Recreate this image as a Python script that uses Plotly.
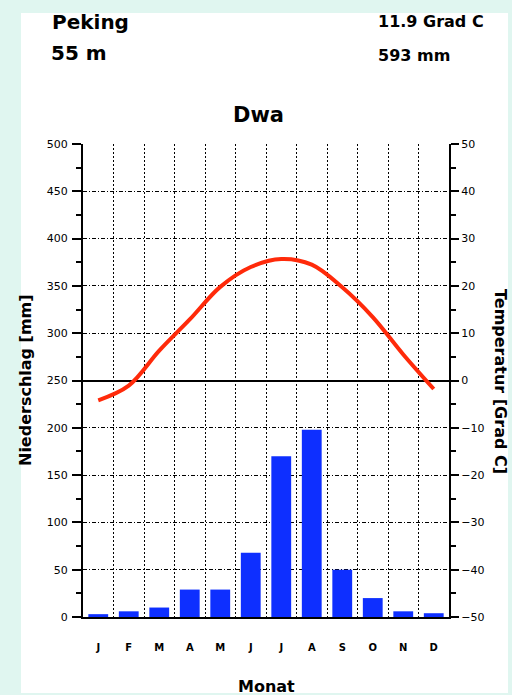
import plotly.graph_objects as go

months = ["J", "F", "M", "A", "M", "J", "J", "A", "S", "O", "N", "D"]
month_pos = [1, 2, 3, 4, 5, 6, 7, 8, 9, 10, 11, 12]
precip_mm = [3, 6, 10, 29, 29, 68, 170, 198, 50, 20, 6, 4]
temp_c = [-4.2, -1.1, 6.3, 12.9, 19.8, 24.0, 25.7, 24.5, 19.7, 13.4, 5.5, -1.8]
precip_ticks = [0, 50, 100, 150, 200, 250, 300, 350, 400, 450, 500]
temp_ticks = [-50, -40, -30, -20, -10, 0, 10, 20, 30, 40, 50]

W, H = 512, 695
L, R, T, B = 83, 449, 144, 617
pw, ph = R - L, B - T


def px(x):
    return (x - L) / pw


def py(y):
    return (B - y) / ph


FONT = "DejaVu Sans"
BG = "#e0f6f0"

fig = go.Figure()
fig.add_trace(go.Bar(
    x=month_pos, y=precip_mm, width=0.65,
    marker=dict(color="#0e2fff", line=dict(width=0)),
    yaxis="y", showlegend=False,
))
fig.add_trace(go.Scatter(
    x=month_pos, y=temp_c, mode="lines",
    line=dict(color="#ff2a0a", width=4, shape="spline", smoothing=1.0),
    yaxis="y2", showlegend=False,
))

fig.update_layout(
    width=W, height=H,
    margin=dict(l=L, r=W - R, t=T, b=H - B, pad=0),
    paper_bgcolor=BG, plot_bgcolor="white",
    font=dict(family=FONT, color="black"),
    xaxis=dict(
        range=[0.5, 12.5], tickmode="array", tickvals=month_pos, ticktext=months,
        ticks="", showgrid=False, zeroline=False,
        showline=True, linecolor="black", linewidth=2,
        tickfont=dict(family=FONT, size=10, weight="bold"),
        ticklabelstandoff=20,
        minor=dict(tickmode="linear", tick0=0.5, dtick=1, showgrid=True,
                   gridcolor="black", gridwidth=1, griddash="2px,2px", ticks=""),
    ),
    yaxis=dict(
        range=[0, 500], tickmode="array", tickvals=precip_ticks,
        ticks="outside", ticklen=9, tickwidth=1.5, tickcolor="black",
        showgrid=True, gridcolor="black", gridwidth=1, griddash="4px,2px,1px,2px",
        zeroline=False, showline=True, linecolor="black", linewidth=2,
        tickfont=dict(family=FONT, size=11),
        ticklabelstandoff=2,
        minor=dict(dtick=25, ticks="outside", ticklen=5, tickwidth=1.5,
                   tickcolor="black", showgrid=False),
    ),
    yaxis2=dict(
        range=[-50, 50], overlaying="y", side="right", tickmode="array",
        tickvals=temp_ticks, ticks="outside", ticklen=8, tickwidth=1.5,
        tickcolor="black", showgrid=False, zeroline=True, zerolinecolor="black",
        zerolinewidth=1.5, showline=True, linecolor="black", linewidth=2,
        tickfont=dict(family=FONT, size=11),
        minor=dict(dtick=5, ticks="outside", ticklen=5, tickwidth=1.5,
                   tickcolor="black", showgrid=False),
    ),
    shapes=[dict(type="rect", xref="paper", yref="paper", layer="below",
                 x0=px(21), x1=px(508), y0=py(693), y1=py(13),
                 fillcolor="white", line=dict(width=0))],
)

def ann(text, x, y, size, xanchor="left", yanchor="middle", angle=0):
    fig.add_annotation(text=text, xref="paper", yref="paper", x=x, y=y,
                       xanchor=xanchor, yanchor=yanchor, showarrow=False,
                       textangle=angle,
                       font=dict(family=FONT, size=size, color="black", weight="bold"))

ann("Peking", px(50), py(22), 20)
ann("55 m", px(49), py(53), 20)
ann("11.9 Grad C", px(376), py(22), 16)
ann("593 mm", px(376), py(55), 16)
ann("Dwa", px(258), py(115), 21, xanchor="center")
ann("Niederschlag [mm]", px(25), py(380), 16, xanchor="center", angle=-90)
ann("Temperatur [Grad C]", px(501), py(381), 16, xanchor="center", angle=90)
ann("Monat", px(266), py(686), 16, xanchor="center")

fig.write_html("out.html", config={"displayModeBar": False},
               post_script="document.body.style.margin='0';document.body.style.overflow='hidden';")
